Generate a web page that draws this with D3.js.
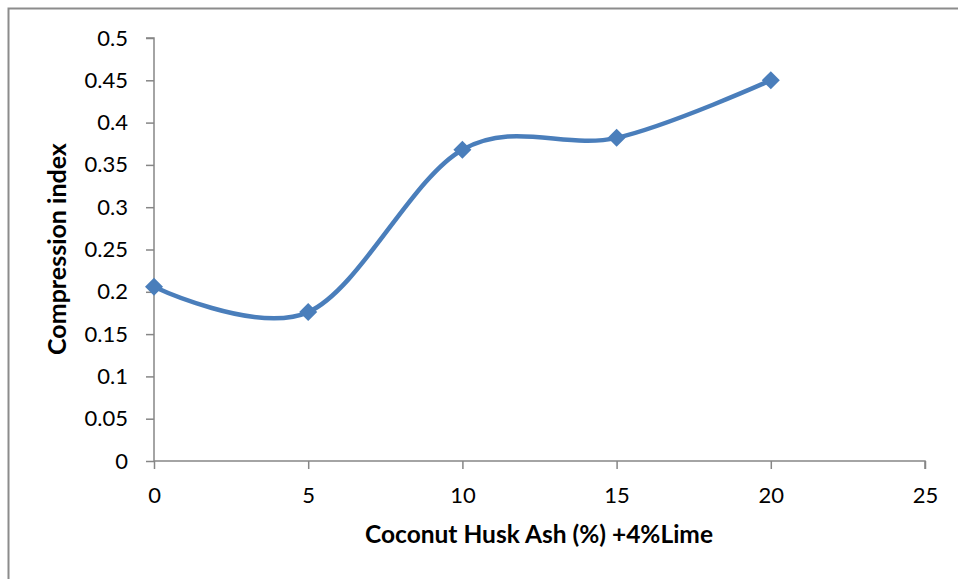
<!DOCTYPE html>
<html>
<head>
<meta charset="utf-8">
<script src="https://cdn.jsdelivr.net/npm/d3@7"></script>
<style>
  html, body { margin: 0; padding: 0; background: #fff; }
  svg { display: block; }
</style>
</head>
<body>
<svg id="chart" width="958" height="579"></svg>
<script>
// Compression index vs coconut husk ash content (with 4% lime)
const ashPercent = [0, 5, 10, 15, 20];
const compressionIndex = [0.206, 0.176, 0.368, 0.382, 0.450];
const xTicks = [0, 5, 10, 15, 20, 25];
const yTicks = [0, 0.05, 0.1, 0.15, 0.2, 0.25, 0.3, 0.35, 0.4, 0.45, 0.5];

const svg = d3.select("#chart");
const W = 958, H = 579;
const font = "Lato, 'Open Sans', sans-serif";

// outer chart frame
svg.append("rect")
  .attr("x", 8.5).attr("y", 8.5)
  .attr("width", W + 10).attr("height", H + 10)
  .attr("fill", "none").attr("stroke", "#8c8c8c").attr("stroke-width", 2);

const x = d3.scaleLinear().domain([0, 25]).range([154, 925]);
const y = d3.scaleLinear().domain([0, 0.5]).range([461, 38]);

const axisColor = "#868686";

// y axis
const gy = svg.append("g").attr("transform", "translate(154,0)")
  .call(d3.axisLeft(y).tickValues(yTicks).tickSize(8).tickPadding(18)
    .tickFormat(d => d3.format("")(+d.toFixed(2))));
gy.select(".domain").attr("stroke", axisColor).attr("stroke-width", 1.5)
  .attr("d", `M-8,${y(0.5)}H0V${y(0)}`);
gy.selectAll(".tick line").attr("stroke", axisColor).attr("stroke-width", 1.5);
gy.selectAll(".tick text").attr("font-family", font).attr("font-size", 22)
  .attr("fill", "#000");

// x axis
const gx = svg.append("g").attr("transform", "translate(0,461)")
  .call(d3.axisBottom(x).tickValues(xTicks).tickSize(8).tickPadding(18));
gx.select(".domain").attr("stroke", axisColor).attr("stroke-width", 1.5)
  .attr("d", `M${x(0)},0H${x(25)}V8`);
gx.selectAll(".tick line").attr("stroke", axisColor).attr("stroke-width", 1.5);
gx.selectAll(".tick text").attr("font-family", font).attr("font-size", 22)
  .attr("fill", "#000");

// axis titles
svg.append("text")
  .attr("x", 539).attr("y", 543)
  .attr("text-anchor", "middle")
  .attr("font-family", font).attr("font-size", 24.5).attr("font-weight", "bold")
  .text("Coconut Husk Ash (%) +4%Lime");

svg.append("text")
  .attr("transform", "translate(66,249) rotate(-90)")
  .attr("text-anchor", "middle")
  .attr("font-family", font).attr("font-size", 25).attr("font-weight", "bold")
  .text("Compression index");

// smoothed series line
const pts = ashPercent.map((a, i) => [a, compressionIndex[i]]);
const line = d3.line()
  .x(d => x(d[0])).y(d => y(d[1]))
  .curve(d3.curveCardinal.tension(0));

const blue = "#4a7ebb";
svg.append("path")
  .datum(pts)
  .attr("d", line)
  .attr("fill", "none")
  .attr("stroke", blue)
  .attr("stroke-width", 4.5)
  .attr("stroke-linecap", "round");

// diamond markers
svg.selectAll(".marker")
  .data(pts)
  .join("path")
  .attr("class", "marker")
  .attr("transform", d => `translate(${x(d[0])},${y(d[1])})`)
  .attr("d", "M0,-9L9,0L0,9L-9,0Z")
  .attr("fill", blue);
</script>
</body>
</html>
